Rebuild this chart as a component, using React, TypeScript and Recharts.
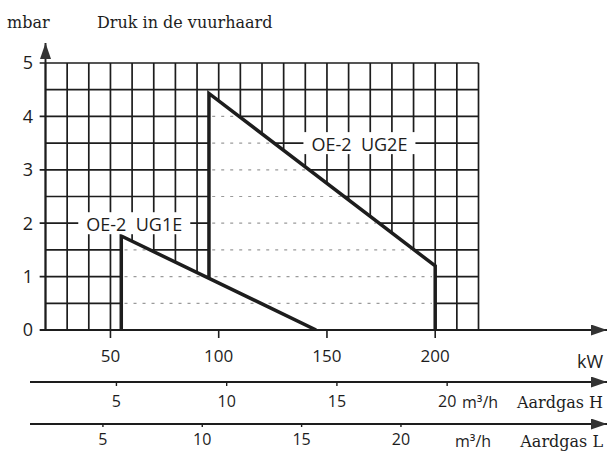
import {
  ComposedChart,
  Line,
  Area,
  XAxis,
  YAxis,
  ReferenceLine,
  ReferenceDot,
  Label,
} from "recharts";

// pressure in the combustion chamber (mbar) vs. load (kW)
const kwTicks = [50, 100, 150, 200];
const mbarTicks = [0, 1, 2, 3, 4, 5];
const gasHTicks = [5, 10, 15, 20];
const gasLTicks = [5, 10, 15, 20];

const gridKw = [20, 30, 40, 50, 60, 70, 80, 90, 100, 110, 120, 130, 140, 150, 160, 170, 180, 190, 200, 210, 220];
const gridMbar = [0.5, 1, 1.5, 2, 2.5, 3, 3.5, 4, 4.5, 5];

const ug1eOutline = [
  { kw: 55, mbar: 0 },
  { kw: 55, mbar: 1.76 },
  { kw: 145, mbar: 0 },
];
const ug2eOutline = [
  { kw: 95.5, mbar: 0.97 },
  { kw: 95.5, mbar: 4.43 },
  { kw: 200, mbar: 1.2 },
  { kw: 200, mbar: 0 },
];
const ug1eFill = [
  { kw: 55, mbar: 1.76 },
  { kw: 145, mbar: 0 },
];
const ug2eFill = [
  { kw: 95.5, mbar: 4.43 },
  { kw: 200, mbar: 1.2 },
];

const SANS = '"Open Sans", "DejaVu Sans", sans-serif';
const SERIF = '"DejaVu Serif", "Liberation Serif", serif';
const INK = "#1d1d1d";

const KW_DOMAIN = [12.84, 279.35];
const H_DOMAIN = [1.08, 27.25];
const L_DOMAIN = [1.33, 30.37];
const MBAR_MAX = 5.375;

// the gas-flow scales have no series of their own; an invisible line keeps them alive
const gasHAnchor = gasHTicks.map((v) => ({ gas: v, mbar: 0 }));
const gasLAnchor = gasLTicks.map((v) => ({ gas: v, mbar: 0 }));

// inside the envelopes the grid is only faintly dotted: find where each level leaves the shape
const spanAt = (fill: { kw: number; mbar: number }[], m: number) => {
  const [a, b] = fill;
  if (m >= a.mbar) return null;
  const right = m <= b.mbar ? b.kw : a.kw + ((a.mbar - m) / (a.mbar - b.mbar)) * (b.kw - a.kw);
  return [a.kw, right];
};
const faintSegments = gridMbar
  .filter((m) => m < 5)
  .flatMap((m) => {
    const s1 = spanAt(ug1eFill, m);
    const s2 = spanAt(ug2eFill, m);
    if (s1 && s2 && s1[1] >= s2[0] - 2) return [{ m, from: s1[0], to: Math.max(s1[1], s2[1]) }];
    return [s1, s2].filter(Boolean).map((s: any) => ({ m, from: s[0], to: s[1] }));
  });

const CurveLabel = ({ cx, cy, text }: { cx: number; cy: number; text: string }) => (
  <g>
    <rect x={cx - 56} y={cy - 11} width={112} height={22} fill="#fff" />
    <text
      x={cx}
      y={cy + 1}
      textAnchor="middle"
      dominantBaseline="central"
      fontFamily={SANS}
      fontSize={18}
      fill={INK}
      style={{ whiteSpace: "pre" }}
    >
      {text}
    </text>
  </g>
);

const GasLabel = ({ viewBox, name, dy, unitX }: any) => {
  const right = viewBox.x + viewBox.width;
  const cy = viewBox.y + dy;
  return (
    <g>
      <text x={right - unitX} y={cy} dominantBaseline="central" fontFamily={SANS} fontSize={16} fill={INK}>
        m³/h
      </text>
      <text x={right - 4} y={cy} textAnchor="end" dominantBaseline="central" fontFamily={SERIF} fontSize={16} fill={INK}>
        {name}
      </text>
    </g>
  );
};

const App = () => {
  return (
    <div style={{ position: "relative", width: 610, height: 453, background: "#fff" }}>
      <style>{"body{margin:0}"}</style>
      <svg width={0} height={0} style={{ position: "absolute" }}>
        <defs>
          <marker
            id="arrow"
            viewBox="0 0 16 11"
            refX={16}
            refY={5.5}
            markerWidth={16}
            markerHeight={11}
            markerUnits="userSpaceOnUse"
            orient="auto"
          >
            <path d="M0,0 L16,5.5 L0,11 z" fill="#333" />
          </marker>
        </defs>
      </svg>

      <div style={{ position: "absolute", left: 7, top: 13, fontFamily: SERIF, fontSize: 16, color: INK }}>mbar</div>
      <div style={{ position: "absolute", left: 97, top: 13, fontFamily: SERIF, fontSize: 16, color: INK }}>
        Druk in de vuurhaard
      </div>

      <ComposedChart width={610} height={453} margin={{ top: 43, right: 3, bottom: 0, left: 0 }}>
        <XAxis
          dataKey="kw"
          type="number"
          domain={KW_DOMAIN}
          allowDataOverflow
          ticks={kwTicks}
          height={52}
          axisLine={false}
          tickSize={8}
          tickMargin={12}
          tickLine={{ stroke: INK, strokeWidth: 1.6 }}
          tick={{ fill: INK, fontSize: 17, fontFamily: SANS }}
        >
          <Label value="kW" position="insideRight" offset={4} dy={6} fontSize={18} fontFamily={SANS} fill={INK} />
        </XAxis>
        <XAxis
          xAxisId="h"
          dataKey="gas"
          type="number"
          domain={H_DOMAIN}
          allowDataOverflow
          ticks={gasHTicks}
          height={42}
          axisLine={{ stroke: INK, strokeWidth: 1.8, markerEnd: "url(#arrow)" }}
          tickSize={4}
          tickMargin={10}
          tickLine={{ stroke: INK, strokeWidth: 1.4 }}
          tick={{ fill: INK, fontSize: 16, fontFamily: SANS }}
        >
          <Label content={(p: any) => <GasLabel {...p} dy={20} unitX={145} name="Aardgas H" />} />
        </XAxis>
        <XAxis
          xAxisId="l"
          dataKey="gas"
          type="number"
          domain={L_DOMAIN}
          allowDataOverflow
          ticks={gasLTicks}
          height={29}
          axisLine={{ stroke: INK, strokeWidth: 1.8, markerEnd: "url(#arrow)" }}
          tickSize={3}
          tickMargin={7}
          tickLine={{ stroke: INK, strokeWidth: 1.4 }}
          tick={{ fill: INK, fontSize: 16, fontFamily: SANS }}
        >
          <Label content={(p: any) => <GasLabel {...p} dy={17} unitX={152} name="Aardgas L" />} />
        </XAxis>
        <YAxis
          type="number"
          domain={[0, MBAR_MAX]}
          allowDataOverflow
          ticks={mbarTicks}
          width={30}
          axisLine={false}
          tickLine={false}
          tickSize={0}
          tickMargin={0}
          tick={{ fill: INK, fontSize: 18, fontFamily: SANS, dx: 3 }}
        />

        {/* grid */}
        {gridKw.map((kw) => (
          <ReferenceLine
            key={`v${kw}`}
            segment={[{ x: kw, y: 0 }, { x: kw, y: 5 }]}
            stroke={INK}
            strokeWidth={1.7}
            ifOverflow="visible"
            zIndex={0}
          />
        ))}
        {gridMbar.map((m) => (
          <ReferenceLine
            key={`h${m}`}
            segment={[{ x: Number.isInteger(m) ? 17.3 : 20, y: m }, { x: 220, y: m }]}
            stroke={INK}
            strokeWidth={1.7}
            ifOverflow="visible"
            zIndex={0}
          />
        ))}

        <Line xAxisId="h" data={gasHAnchor} dataKey="mbar" stroke="none" dot={false} legendType="none" isAnimationActive={false} />
        <Line xAxisId="l" data={gasLAnchor} dataKey="mbar" stroke="none" dot={false} legendType="none" isAnimationActive={false} />

        <Area data={ug2eFill} dataKey="mbar" type="linear" baseValue={0} fill="#fff" fillOpacity={1} stroke="none" isAnimationActive={false} />
        <Area data={ug1eFill} dataKey="mbar" type="linear" baseValue={0} fill="#fff" fillOpacity={1} stroke="none" isAnimationActive={false} />

        {faintSegments.map((s, i) => (
          <ReferenceLine
            key={`f${i}`}
            segment={[{ x: s.from + 1.5, y: s.m }, { x: s.to - 1.5, y: s.m }]}
            stroke="#9a9a9a"
            strokeWidth={1.2}
            strokeDasharray="3 6"
            ifOverflow="visible"
            zIndex={300}
          />
        ))}

        {/* axes with arrows */}
        <ReferenceLine
          segment={[{ x: 17.3, y: 0 }, { x: KW_DOMAIN[1], y: 0 }]}
          stroke={INK}
          strokeWidth={1.9}
          markerEnd="url(#arrow)"
          ifOverflow="visible"
          zIndex={500}
        />
        <ReferenceLine
          segment={[{ x: 20, y: 0 }, { x: 20, y: MBAR_MAX }]}
          stroke={INK}
          strokeWidth={1.9}
          markerEnd="url(#arrow)"
          ifOverflow="visible"
          zIndex={500}
        />

        <Line data={ug1eOutline} dataKey="mbar" type="linear" stroke={INK} strokeWidth={3.5} strokeLinejoin="miter" dot={false} isAnimationActive={false} />
        <Line data={ug2eOutline} dataKey="mbar" type="linear" stroke={INK} strokeWidth={3.5} strokeLinejoin="miter" dot={false} isAnimationActive={false} />

        <ReferenceDot x={61} y={2} ifOverflow="visible" shape={(p: any) => <CurveLabel cx={p.cx} cy={p.cy} text="OE-2  UG1E" />} />
        <ReferenceDot x={165} y={3.5} ifOverflow="visible" shape={(p: any) => <CurveLabel cx={p.cx} cy={p.cy} text="OE-2  UG2E" />} />
      </ComposedChart>
    </div>
  );
};

export default App;
